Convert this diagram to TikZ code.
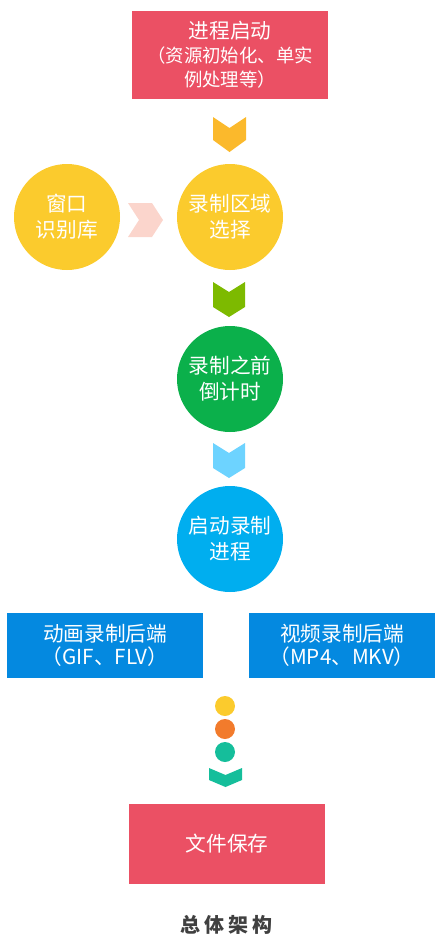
\documentclass[tikz,border=0pt]{standalone}
\usepackage{fontspec}
\setmainfont{Noto Sans CJK SC}
\definecolor{cred}{HTML}{EB5064}
\definecolor{cyel}{HTML}{FBCB2D}
\definecolor{corg}{HTML}{FBB92C}
\definecolor{cpink}{HTML}{FBD5CC}
\definecolor{clime}{HTML}{7DBA00}
\definecolor{cgreen}{HTML}{0BB04B}
\definecolor{clblue}{HTML}{6DD3FF}
\definecolor{cblue}{HTML}{00AEEF}
\definecolor{cdblue}{HTML}{0489E0}
\definecolor{cdot}{HTML}{F27B2C}
\definecolor{cteal}{HTML}{15BE9B}
\tikzset{
  box/.style={fill=#1, text=white, inner sep=0pt, align=center, font=\fontsize{15.5}{18}\selectfont},
  circ/.style={circle, fill=#1, text=white, minimum size=79.5pt, inner sep=0pt, align=center, font=\fontsize{15.5}{19.5}\selectfont},
  dot/.style={circle, fill=#1, minimum size=15pt, inner sep=0pt},
}
\begin{document}
\begin{tikzpicture}[x=0.75pt,y=-0.75pt]
\useasboundingbox (0,0) rectangle (435,939);
% top box
\node[box=cred, minimum width=147pt, minimum height=66pt] (start) at (230,55) {{\fontsize{15.5}{18}\selectfont 进程启动}\\{\fontsize{13.8}{18}\selectfont（资源初始化、单实}\\{\fontsize{13.8}{18}\selectfont 例处理等）}};
% chevron 1
\fill[corg] (213,117) -- (229.5,128) -- (246,117) -- (246,140) -- (229.5,152) -- (213,140) -- cycle;
% circles
\node[circ=cyel] (win) at (67,217) {窗口\\识别库};
\node[circ=cyel] (area) at (230,217) {录制区域\\选择};
% pink chevron
\fill[cpink] (128,203) -- (152,203) -- (163,220) -- (152,237) -- (128,237) -- (139,220) -- cycle;
% green chevron
\fill[clime] (213,282) -- (229,292) -- (245,282) -- (245,307) -- (229,317) -- (213,307) -- cycle;
\node[circ=cgreen] (count) at (230,379) {录制之前\\倒计时};
% light blue chevron
\fill[clblue] (213,443) -- (229,453) -- (245,443) -- (245,468) -- (229,478) -- (213,468) -- cycle;
\node[circ=cblue] (proc) at (230,539) {启动录制\\进程};
% backends
\node[box=cdblue, minimum width=147pt, minimum height=48.75pt, font=\fontsize{15.5}{17.5}\selectfont] (gif) at (105,645.5) {动画录制后端\\（GIF、FLV）};
\node[box=cdblue, minimum width=139.5pt, minimum height=48.75pt, font=\fontsize{15.5}{17.5}\selectfont] (mp4) at (342,645.5) {视频录制后端\\（MP4、MKV）};
% dots
\node[dot=cyel] (d1) at (225,706) {};
\node[dot=cdot] (d2) at (225,729) {};
\node[dot=cteal] (d3) at (225,752) {};
\fill[cteal] (209,768) -- (225.5,775) -- (242,768) -- (242,780) -- (225.5,787) -- (209,780) -- cycle;
% save
\node[box=cred, minimum width=147pt, minimum height=60pt] (save) at (227,844) {文件保存};
% title
\node[text=black!75, font=\fontsize{15}{16}\bfseries\selectfont] (title) at (226,925) {总\hspace{3pt}体\hspace{3pt}架\hspace{3pt}构};
\end{tikzpicture}
\end{document}
